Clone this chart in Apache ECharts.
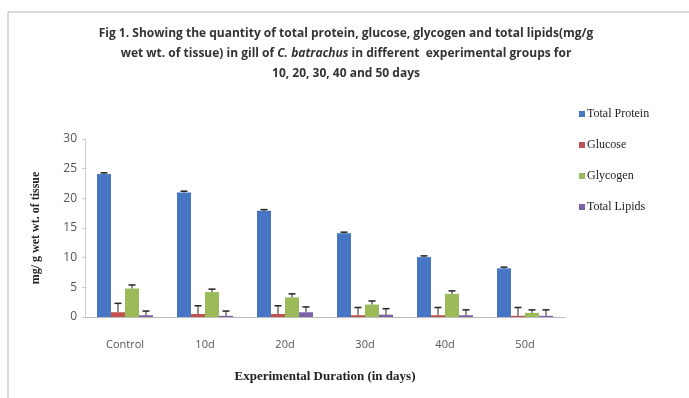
<!DOCTYPE html>
<html><head><meta charset="utf-8">
<script src="https://cdn.jsdelivr.net/npm/echarts@6/dist/echarts.min.js"></script>
<style>html,body{margin:0;padding:0;background:#fff}#c{width:689px;height:398px}</style>
</head><body><div id="c"></div>
<script>
const categories = ['Control', '10d', '20d', '30d', '40d', '50d'];
const seriesNames = ['Total Protein', 'Glucose', 'Glycogen', 'Total Lipids'];
const totalProtein = [24.1, 21.0, 17.9, 14.1, 10.1, 8.2];
const glucose = [0.8, 0.5, 0.5, 0.3, 0.3, 0.2];
const glycogen = [4.8, 4.2, 3.3, 2.1, 3.9, 0.7];
const totalLipids = [0.3, 0.2, 0.8, 0.4, 0.3, 0.2];
const errProtein = [0.2, 0.2, 0.2, 0.2, 0.2, 0.2];
const errGlucose = [1.5, 1.4, 1.4, 1.3, 1.3, 1.4];
const errGlycogen = [0.6, 0.5, 0.6, 0.6, 0.5, 0.5];
const errLipids = [0.7, 0.8, 0.9, 1.0, 0.9, 1.0];
const yTicks = [0, 5, 10, 15, 20, 25, 30];
const colors = ['#4676c4', '#c0504d', '#9bbb59', '#7c63a8'];

const values = [totalProtein, glucose, glycogen, totalLipids];
const errs = [errProtein, errGlucose, errGlycogen, errLipids];
const BW = 14;

const chart = echarts.init(document.getElementById('c'));
const barSeries = seriesNames.map((n, i) => ({
  name: n, type: 'bar', data: values[i], barWidth: BW, barGap: '0%',
  itemStyle: { color: colors[i] }, z: 2
}));
const errSeries = seriesNames.map((n, i) => ({
  type: 'custom', name: n + ' err', z: 5, silent: true,
  data: categories.map((c, k) => [k, values[i][k], values[i][k] + errs[i][k]]),
  renderItem: function (params, api) {
    const off = (i - 1.5) * BW;
    const p0 = api.coord([api.value(0), api.value(1)]);
    const p1 = api.coord([api.value(0), api.value(2)]);
    const x = p0[0] + off;
    return { type: 'group', children: [
      { type: 'line', shape: { x1: x, y1: p0[1], x2: x, y2: p1[1] }, style: { stroke: '#222', lineWidth: 1 } },
      { type: 'line', shape: { x1: x - 3.5, y1: p1[1], x2: x + 3.5, y2: p1[1] }, style: { stroke: '#222', lineWidth: 1.5 } }
    ]};
  }
}));

chart.setOption({
  animation: false,
  title: {
    text: 'Fig 1. Showing the quantity of total protein, glucose, glycogen and total lipids(mg/g\nwet wt. of tissue) in gill of {i|C. batrachus} in different  experimental groups for\n10, 20, 30, 40 and 50 days',
    left: 341, top: 19, textAlign: 'center',
    textStyle: { fontFamily: 'Open Sans', fontWeight: 'bold', fontSize: 12, color: '#333', lineHeight: 20,
      rich: { i: { fontFamily: 'Open Sans', fontWeight: 'bold', fontStyle: 'italic', fontSize: 12, color: '#333', lineHeight: 20 } } }
  },
  graphic: [
    { type: 'rect', shape: { x: 8, y: 12, width: 690, height: 400 }, style: { fill: 'none', stroke: '#cfcfcf', lineWidth: 1.5 } }
  ],
  legend: {
    data: seriesNames, orient: 'vertical', left: 574, top: 103, itemGap: 19,
    itemWidth: 6, itemHeight: 6, icon: 'rect',
    textStyle: { fontFamily: 'Liberation Serif', fontSize: 12, color: '#222', padding: [0, 0, 0, -3] }
  },
  grid: { left: 85, right: 124, top: 139, bottom: 81 },
  xAxis: {
    type: 'category', data: categories,
    name: 'Experimental Duration (in days)', nameLocation: 'middle', nameGap: 53,
    nameTextStyle: { fontFamily: 'Liberation Serif', fontWeight: 'bold', fontSize: 13, color: '#222' },
    axisLine: { lineStyle: { color: '#bbb' } }, axisTick: { show: false },
    axisLabel: { fontFamily: 'Open Sans', fontSize: 11, color: '#555', margin: 22 }
  },
  yAxis: {
    type: 'value', min: 0, max: 30, interval: 5,
    name: 'mg/ g wet wt. of tissue', nameLocation: 'middle', nameGap: 43,
    nameTextStyle: { fontFamily: 'Liberation Serif', fontWeight: 'bold', fontSize: 12, color: '#222' },
    axisLine: { show: true, lineStyle: { color: '#ccc' } },
    axisTick: { show: true, length: 3, lineStyle: { color: '#ccc' } },
    splitLine: { show: false },
    axisLabel: { fontFamily: 'Open Sans', fontSize: 12, color: '#555', margin: 8,
      formatter: v => yTicks.includes(v) ? String(v) : '' }
  },
  series: barSeries.concat(errSeries)
});
</script></body></html>
